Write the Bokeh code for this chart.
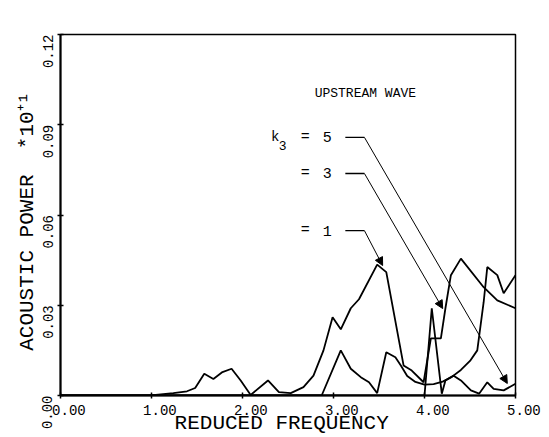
import math
from bokeh.plotting import figure
from bokeh.models import Range1d, FixedTicker, Arrow, NormalHead
from bokeh.core.properties import value
from bokeh.embed import file_html
from bokeh.resources import INLINE

# ---- data ----
freq_k1 = [0.0, 0.5, 0.99, 1.24, 1.39, 1.48, 1.58, 1.68, 1.78, 1.88, 1.98, 2.09, 2.28, 2.40,
           2.53, 2.67, 2.78, 2.89, 2.99, 3.08, 3.19, 3.28, 3.48, 3.58, 3.77, 3.86, 3.99,
           4.07, 4.18, 4.23, 4.29, 4.40, 4.65, 4.80, 5.00]
power_k1 = [0.0, 0.0, 0.0, 0.0008, 0.0014, 0.0025, 0.0072, 0.0055, 0.0078, 0.0089, 0.0050,
            0.0002, 0.0050, 0.0011, 0.0008, 0.0028, 0.0066, 0.0150, 0.0260, 0.0220, 0.0290,
            0.0320, 0.0435, 0.0410, 0.0100, 0.0083, 0.0044, 0.0190, 0.0190, 0.0290, 0.0400,
            0.0455, 0.0360, 0.0316, 0.0290]

freq_k3 = [0.0, 2.0, 2.87, 3.08, 3.19, 3.30, 3.39, 3.48, 3.58, 3.68, 3.74, 3.81, 3.90, 4.00,
           4.10, 4.20, 4.30, 4.40, 4.50, 4.58, 4.65, 4.69, 4.80, 4.87, 5.00]
power_k3 = [0.0, 0.0, 0.0, 0.0150, 0.0089, 0.0061, 0.0044, 0.0008, 0.0144, 0.0127, 0.0100,
            0.0065, 0.0045, 0.0036, 0.0038, 0.0046, 0.0062, 0.0085, 0.0115, 0.0150, 0.0310,
            0.0427, 0.0400, 0.0340, 0.0400]

freq_k5 = [0.0, 4.00, 4.08, 4.19, 4.23, 4.32, 4.40, 4.51, 4.60, 4.69, 4.76, 4.87, 5.00]
power_k5 = [0.0, 0.0, 0.0290, 0.0006, 0.0050, 0.0066, 0.0050, 0.0017, 0.0006, 0.0044,
            0.0022, 0.0017, 0.0039]

x_ticks = [0, 1, 2, 3, 4, 5]
x_tick_labels = ["0.00", "1.00", "2.00", "3.00", "4.00", "5.00"]
y_ticks = [0.0, 0.03, 0.06, 0.09, 0.12]
y_tick_labels = ["0.00", "0.03", "0.06", "0.09", "0.12"]

legend_values = ["5", "3", "1"]
# annotation anchor positions (label row y, arrow target) in data units
legend_rows_y = [0.0858, 0.0738, 0.0548]
arrow_targets_x = [4.91, 4.20, 3.54]
arrow_targets_y = [0.0040, 0.0289, 0.0432]

FONT = "Liberation Mono"
NB = "\u00a0"

p = figure(width=543, height=437, output_backend="svg", toolbar_location=None,
           x_range=Range1d(0, 5), y_range=Range1d(0, 0.12),
           min_border_left=60, min_border_right=28, min_border_top=34, min_border_bottom=42)
p.background_fill_color = "white"
p.border_fill_color = "white"
p.grid.visible = False
p.outline_line_color = "black"
p.outline_line_width = 1.5

for ax, ticks in ((p.xaxis[0], x_ticks), (p.yaxis[0], y_ticks)):
    ax.ticker = FixedTicker(ticks=ticks)
    ax.minor_tick_line_color = None
    ax.major_tick_in = 3
    ax.major_tick_out = 3
    ax.major_tick_line_color = "black"
    ax.major_tick_line_width = 1.5
    ax.axis_line_color = "black"
    ax.axis_line_width = 2
    ax.major_label_text_color = "black"
    ax.major_label_text_font = FONT
    ax.major_label_text_font_size = "14px"
    ax.axis_label_text_font = FONT
    ax.axis_label_text_font_size = "21px"
    ax.axis_label_text_font_style = "normal"
    ax.axis_label_text_color = "black"

xa = p.xaxis[0]
xa.major_label_overrides = {t: NB + NB + s for t, s in zip(x_ticks, x_tick_labels)}
xa.major_label_standoff = 4
xa.axis_label = "REDUCED FREQUENCY" + NB
xa.axis_label_standoff = -10

ya = p.yaxis[0]
ya.major_label_overrides = {t: NB + s for t, s in zip(y_ticks, y_tick_labels)}
ya.major_label_orientation = math.pi / 2
ya.major_label_standoff = 9
ya.axis_label = "ACOUSTIC POWER" + NB + NB + "*10\u207a\u00b9" + NB
ya.axis_label_standoff = -9

# curves
for xs, ys in ((freq_k1, power_k1), (freq_k3, power_k3), (freq_k5, power_k5)):
    p.line(xs, ys, line_color="black", line_width=1.8)

# title text
p.text(x=[3.35], y=[0.1004], text=["UPSTREAM WAVE"], text_align="center", text_baseline="middle",
       text_font=value(FONT), text_font_size="13px", text_color="black")

# legend labels and leader arrows
p.text(x=[2.36], y=[legend_rows_y[0]], text=["k"], text_align="center", text_baseline="middle",
       text_font=value(FONT), text_font_size="14px", text_color="black")
p.text(x=[2.44], y=[legend_rows_y[0] - 0.0028], text=["3"], text_align="center",
       text_baseline="middle", text_font=value(FONT), text_font_size="13px", text_color="black")
for val, ly, tx, ty in zip(legend_values, legend_rows_y, arrow_targets_x, arrow_targets_y):
    p.text(x=[2.69], y=[ly], text=["="], text_align="center", text_baseline="middle",
           text_font=value(FONT), text_font_size="15px", text_color="black")
    p.text(x=[2.93], y=[ly], text=[val], text_align="center", text_baseline="middle",
           text_font=value(FONT), text_font_size="15px", text_color="black")
    p.segment(x0=[3.13], y0=[ly], x1=[3.34], y1=[ly], line_color="black", line_width=1.3)
    p.add_layout(Arrow(x_start=3.34, y_start=ly, x_end=tx, y_end=ty,
                       line_color="black", line_width=1,
                       end=NormalHead(size=8, fill_color="black", line_color="black")))

open("out.html", "w").write(file_html(p, INLINE))
